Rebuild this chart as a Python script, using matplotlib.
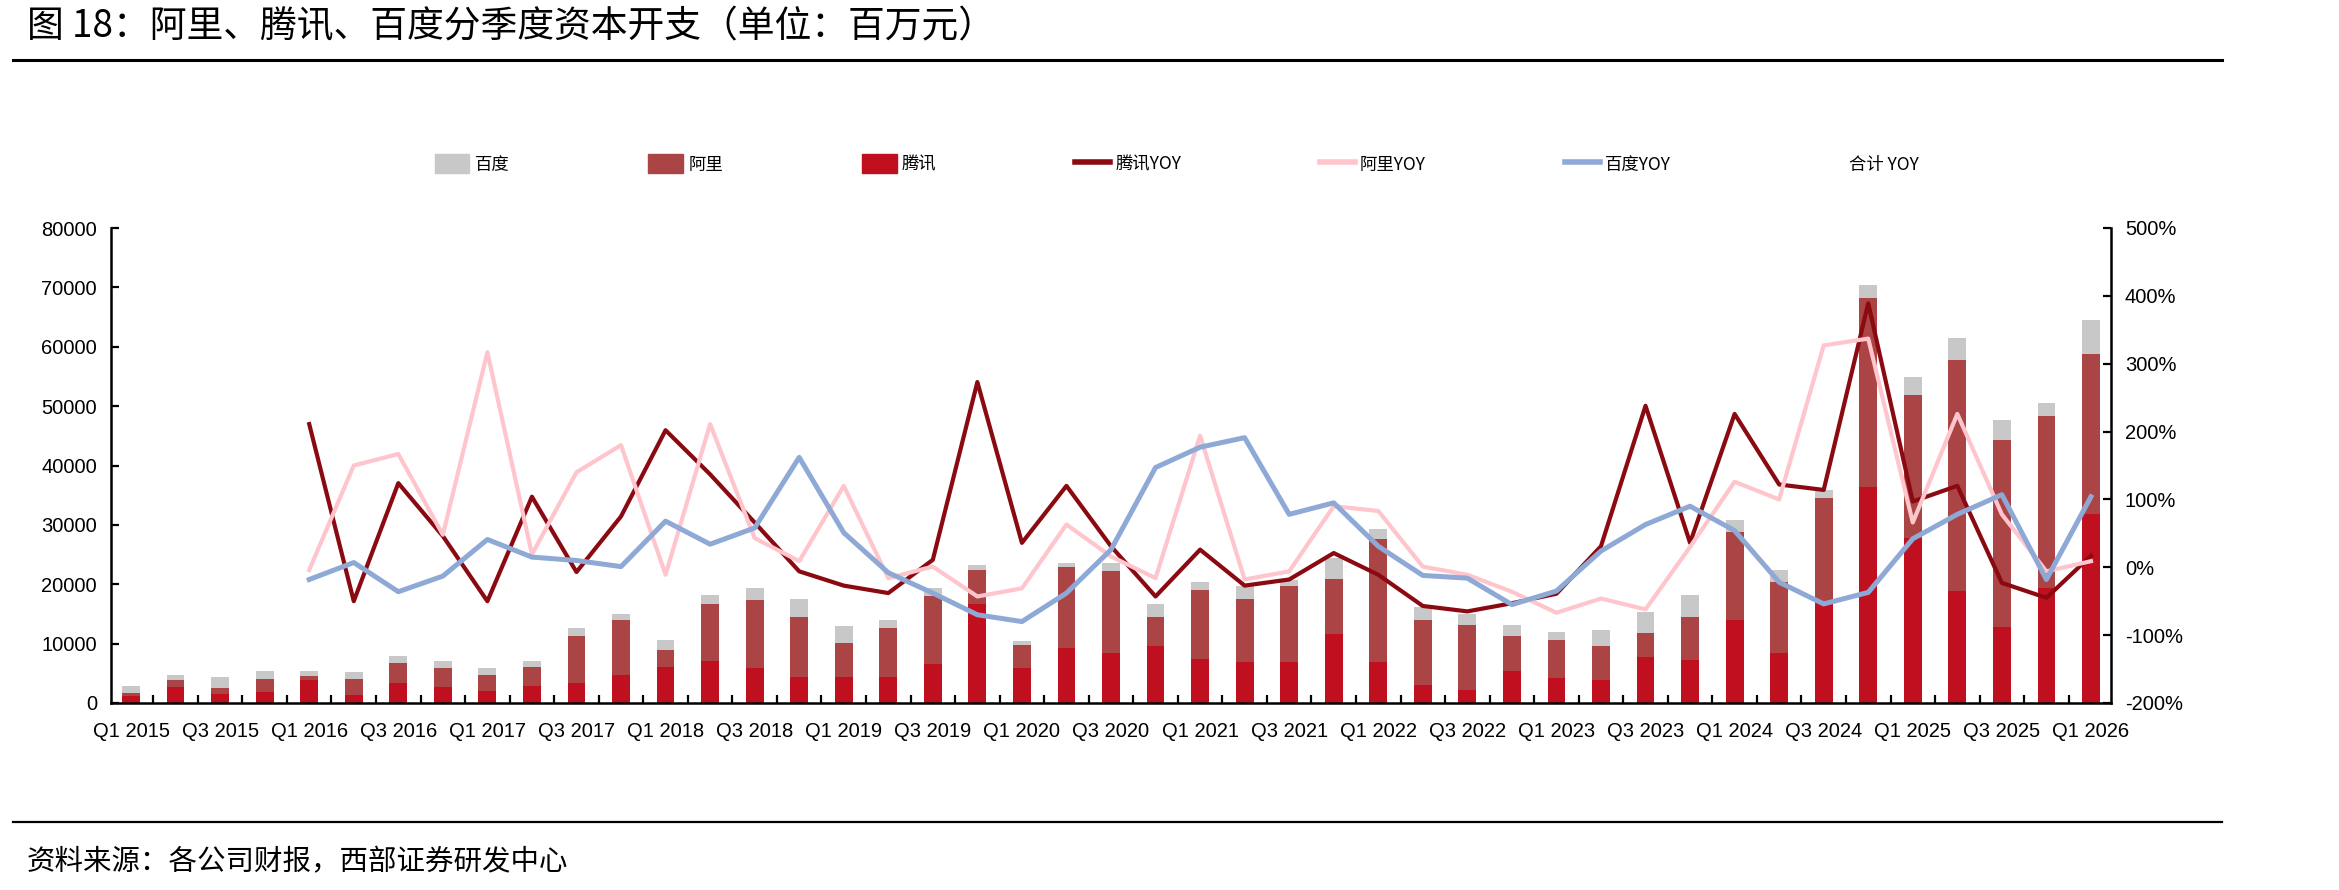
import numpy as np
import matplotlib
matplotlib.use("Agg")
import matplotlib.pyplot as plt
from matplotlib.patches import Patch
from matplotlib.lines import Line2D
from matplotlib.ticker import FuncFormatter, FixedLocator

plt.rcParams['font.family'] = ['Liberation Sans Narrow', 'Liberation Sans', 'Noto Sans CJK SC']

# quarters Q1 2015 .. Q1 2026
quarters = ['Q%d %d' % (q, y) for y in range(2015, 2027) for q in range(1, 5)][:45]

# capex, million RMB
tencent = [1100, 2700, 1600, 1850, 3850, 1300, 3400, 2700, 2050, 2900, 3400, 4750,
           6100, 7050, 5900, 4300, 4300, 4300, 6550, 16650, 5900, 9300, 8350, 9600,
           7400, 6850, 6850, 11600, 6850, 2950, 2150, 5350, 4200, 3800, 7800, 7250,
           14000, 8500, 17100, 36400, 27800, 18900, 12800, 19400, 31800]
alibaba = [650, 1150, 1000, 2200, 650, 2750, 3400, 3150, 2750, 3200, 7950, 9150,
           2750, 9600, 11500, 10150, 5750, 8250, 11400, 5800, 3850, 13600, 13800, 4850,
           11550, 10700, 12800, 9300, 20700, 10950, 11000, 6000, 6350, 5850, 3950, 7250,
           14800, 11900, 17400, 31850, 24150, 38800, 31500, 29000, 26900]
baidu = [1050, 850, 1800, 1300, 850, 1100, 1150, 1150, 1050, 900, 1200, 1150,
         1800, 1550, 1950, 3100, 2950, 1350, 1400, 850, 700, 700, 1450, 2200,
         1350, 2200, 1100, 3550, 1700, 2250, 1800, 1800, 1350, 2650, 3650, 3650,
         2100, 2050, 1400, 2200, 2900, 3800, 3400, 2100, 5750]

# YoY (%), Q1 2016 .. Q1 2026
tencent_yoy = [211, -50, 124, 46, -50, 104, -7, 75, 202, 137, 66, -6,
               -27, -38, 11, 273, 36, 120, 31, -43, 26, -27, -18, 21,
               -11, -57, -65, -53, -39, 31, 238, 36, 226, 122, 114, 389,
               97, 120, -23, -45, 17]
alibaba_yoy = [-4, 150, 167, 48, 317, 19, 140, 180, -11, 211, 43, 9,
               120, -16, 1, -43, -31, 63, 16, -16, 194, -18, -6, 90,
               83, 1, -11, -36, -67, -46, -62, 30, 126, 100, 327, 337,
               66, 226, 78, -6, 9]
baidu_yoy = [-18, 7, -36, -13, 41, 15, 10, 1, 68, 34, 58, 162,
             51, -8, -38, -70, -80, -38, 26, 147, 177, 191, 78, 95,
             31, -12, -16, -55, -35, 24, 63, 90, 54, -22, -54, -37,
             42, 78, 107, -18, 104]

c_tx = '#C00F1E'
c_ali = '#AB4444'
c_bd = '#C8C8C8'
c_tx_yoy = '#8B0A12'
c_ali_yoy = '#FFC5CC'
c_bd_yoy = '#8EA9D5'

fig = plt.figure(figsize=(23.39, 8.9), dpi=100)
ax = fig.add_axes([111/2339, 1-703/890, 2000/2339, 475/890])

x = np.arange(len(quarters))
t = np.array(tencent)
a = np.array(alibaba)
b = np.array(baidu)
w = 0.4
ax.bar(x, t, w, color=c_tx, zorder=2)
ax.bar(x, a, w, bottom=t, color=c_ali, zorder=2)
ax.bar(x, b, w, bottom=t + a, color=c_bd, zorder=2)

ax.set_xlim(-0.45, len(quarters) - 0.55)
ax.set_ylim(0, 80000)
ax.set_yticks(range(0, 80001, 10000))
ax.set_xticks(x[::2])
ax.set_xticklabels(quarters[::2], fontsize=14.5)
ax.xaxis.set_minor_locator(FixedLocator(np.arange(0.5, len(quarters) - 1, 1)))
ax.tick_params(axis='x', which='major', length=0, pad=14)
ax.tick_params(axis='x', which='minor', direction='in', length=6, width=1.6)
ax.tick_params(axis='y', direction='in', length=6, width=1.6, labelsize=14.5, pad=10)
for s in ['top', 'right']:
    ax.spines[s].set_visible(False)
for s in ['left', 'bottom']:
    ax.spines[s].set_linewidth(1.8)

ax2 = ax.twinx()
xy = x[4:]
ax2.plot(xy, np.array(tencent_yoy) / 100, color=c_tx_yoy, lw=3.0, zorder=3)
ax2.plot(xy, np.array(alibaba_yoy) / 100, color=c_ali_yoy, lw=3.0, zorder=3)
ax2.plot(xy, np.array(baidu_yoy) / 100, color=c_bd_yoy, lw=3.6, zorder=3)
ax2.set_ylim(-2, 5)
ax2.set_yticks(np.arange(-2, 5.01, 1))
ax2.yaxis.set_major_formatter(FuncFormatter(lambda v, p: '%d%%' % round(v * 100)))
ax2.tick_params(axis='y', direction='in', length=6, width=1.6, labelsize=14.5, pad=10)
for s in ['top', 'left', 'bottom']:
    ax2.spines[s].set_visible(False)
ax2.spines['right'].set_linewidth(1.8)

handles = [Patch(color=c_bd), Patch(color=c_ali), Patch(color=c_tx),
           Line2D([], [], color=c_tx_yoy, lw=4),
           Line2D([], [], color=c_ali_yoy, lw=4),
           Line2D([], [], color=c_bd_yoy, lw=4),
           Line2D([], [], color='none', lw=4)]
labels = ['百度', '阿里', '腾讯', '腾讯YOY', '阿里YOY', '百度YOY', '合计 YOY']
fig.legend(handles, labels, loc='center', bbox_to_anchor=(1177/2339, 1-164/890),
           ncol=7, frameon=False, handlelength=2.0, handleheight=1.3,
           handletextpad=0.3, columnspacing=8.0,
           prop={'family': ['Liberation Sans Narrow', 'Noto Sans CJK SC'], 'size': 12.5})

fig.text(27/2339, 1-27/890, '图 18：阿里、腾讯、百度分季度资本开支（单位：百万元）',
         fontsize=26.5, va='center', ha='left', family=['Noto Sans CJK SC'])
fig.text(27/2339, 1-862/890, '资料来源：各公司财报，西部证券研发中心',
         fontsize=20.5, va='center', ha='left', family=['Noto Sans CJK SC'])
fig.add_artist(Line2D([13/2339, 2222/2339], [1-60/890, 1-60/890], color='black', lw=2.2))
fig.add_artist(Line2D([13/2339, 2222/2339], [1-822/890, 1-822/890], color='black', lw=1.6))

fig.savefig('out.png', dpi=100)
